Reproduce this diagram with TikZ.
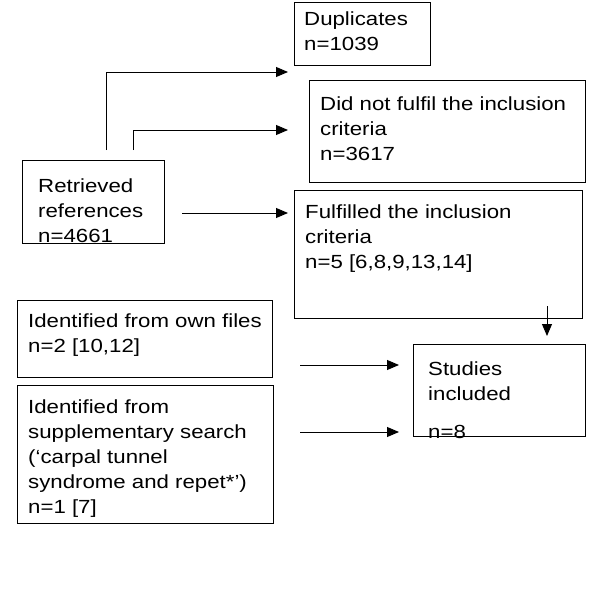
\documentclass[tikz,border=0pt]{standalone}
\usepackage{fontspec}
\setmainfont[FakeStretch=1.17]{Liberation Sans}
\usetikzlibrary{arrows.meta}
\begin{document}
\begin{tikzpicture}[x=1pt,y=-1pt,
  box/.style={draw,line width=0.9pt,anchor=north west,inner sep=0pt},
  txt/.style={anchor=north west,align=left,inner sep=0pt,font=\fontsize{19}{25}\selectfont},
  arr/.style={line width=0.9pt,-{Triangle[length=12pt,width=10pt]}}]
\useasboundingbox (0,0) rectangle (600,615);
\node[box,minimum width=136,minimum height=63] (dup) at (294,2) {};
\node[txt] (tdup) at (304,12) {Duplicates\\n=1039};
\node[box,minimum width=276,minimum height=102] (dnf) at (309,80) {};
\node[txt] (tdnf) at (320,97) {Did not fulfil the inclusion\\criteria\\n=3617};
\node[box,minimum width=142,minimum height=83] (ret) at (22,160) {};
\node[txt] (tret) at (38,179) {Retrieved\\references\\n=4661};
\node[box,minimum width=288,minimum height=128] (ful) at (294,190) {};
\node[txt] (tful) at (305,205) {Fulfilled the inclusion\\criteria\\n=5 [6,8,9,13,14]};
\node[box,minimum width=255,minimum height=77] (own) at (17,300) {};
\node[txt] (town) at (28,314) {Identified from own files\\n=2 [10,12]};
\node[box,minimum width=172,minimum height=92] (stu) at (413,344) {};
\node[txt] (tstu) at (428,362) {Studies\\included\\[13pt]n=8};
\node[box,minimum width=256,minimum height=138] (sup) at (17,385) {};
\node[txt] (tsup) at (28,400) {Identified from\\supplementary search\\(‘carpal tunnel\\syndrome and repet*’)\\n=1 [7]};
\coordinate (a1) at (106,150); \coordinate (a1e) at (288,72);
\draw[arr] (a1) |- (a1e);
\coordinate (a2) at (133,150); \coordinate (a2e) at (288,130);
\draw[arr] (a2) |- (a2e);
\coordinate (a3) at (182,213); \coordinate (a3e) at (288,213);
\draw[arr] (a3) -- (a3e);
\coordinate (a4) at (547,306); \coordinate (a4e) at (547,336);
\draw[arr] (a4) -- (a4e);
\coordinate (a5) at (300,365); \coordinate (a5e) at (399,365);
\draw[arr] (a5) -- (a5e);
\coordinate (a6) at (300,432); \coordinate (a6e) at (399,432);
\draw[arr] (a6) -- (a6e);
\end{tikzpicture}
\end{document}
